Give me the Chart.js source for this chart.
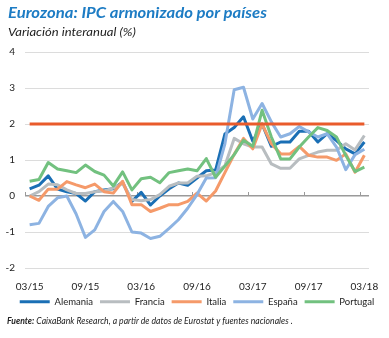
<!DOCTYPE html>
<html><head><meta charset="utf-8">
<script src="https://cdn.jsdelivr.net/npm/chart.js@4/dist/chart.umd.min.js"></script>
<style>
html,body{margin:0;padding:0;background:#fff;}
#wrap{position:relative;width:389px;height:338px;overflow:hidden;}
canvas{position:absolute;left:0;top:0;}
.t{position:absolute;white-space:nowrap;transform-origin:0 0;}
#title{left:8px;top:3px;font:bold italic 15px Lato,'Open Sans',sans-serif;color:#1d7cc4;}
#sub{left:8px;top:25px;font:italic 11.5px Lato,'Open Sans',sans-serif;color:#222;}
#src{left:7px;top:315px;font:italic 9px Lato,'Open Sans',sans-serif;color:#222;}
</style></head><body>
<div id="wrap">
<canvas id="c" width="389" height="338"></canvas>
<div class="t" id="title">Eurozona: IPC armonizado por países</div>
<div class="t" id="sub">Variación interanual (%)</div>
<div class="t" id="src"><b>Fuente:</b> CaixaBank Research, a partir de datos de Eurostat y fuentes nacionales .</div>
</div>
<script>
const categories = ['03/15','04/15','05/15','06/15','07/15','08/15','09/15','10/15','11/15','12/15',
 '01/16','02/16','03/16','04/16','05/16','06/16','07/16','08/16','09/16','10/16','11/16','12/16',
 '01/17','02/17','03/17','04/17','05/17','06/17','07/17','08/17','09/17','10/17','11/17','12/17',
 '01/18','02/18','03/18'];
const tickLabels = ['03/15','09/15','03/16','09/16','03/17','09/17','03/18'];
const alemania = [0.2,0.3,0.56,0.19,0.12,0.07,-0.14,0.12,0.17,0.2,0.38,-0.15,0.1,-0.25,0.0,0.2,0.36,0.3,0.5,0.7,0.72,1.72,1.9,2.2,1.52,2.0,1.38,1.5,1.5,1.8,1.8,1.5,1.73,1.54,1.31,1.17,1.5];
const francia = [0.0,0.12,0.33,0.31,0.17,0.07,0.07,0.12,0.14,0.22,0.35,-0.1,-0.13,-0.1,0.04,0.27,0.36,0.36,0.55,0.56,0.65,0.84,1.6,1.45,1.36,1.36,0.89,0.77,0.77,1.03,1.13,1.22,1.27,1.27,1.45,1.28,1.68];
const italia = [0.0,-0.12,0.19,0.19,0.4,0.31,0.23,0.33,0.12,0.08,0.41,-0.24,-0.24,-0.43,-0.34,-0.24,-0.24,-0.15,0.08,-0.14,0.14,0.65,1.16,1.6,1.31,2.0,1.45,1.17,1.17,1.38,1.13,1.08,1.08,0.99,1.17,0.66,1.13];
const espana = [-0.8,-0.76,-0.29,-0.05,0.0,-0.5,-1.15,-0.94,-0.43,-0.15,-0.43,-1.0,-1.03,-1.18,-1.12,-0.9,-0.66,-0.34,0.04,0.5,0.51,1.45,2.95,3.02,2.14,2.57,2.06,1.64,1.73,1.93,1.78,1.64,1.73,1.36,0.73,1.15,1.3];
const portugal = [0.41,0.46,0.93,0.75,0.7,0.65,0.86,0.68,0.58,0.28,0.67,0.17,0.48,0.52,0.37,0.65,0.7,0.75,0.7,1.04,0.52,0.83,1.15,1.55,1.38,2.38,1.64,1.03,1.03,1.36,1.64,1.9,1.82,1.64,1.13,0.68,0.8];
const objetivo = categories.map(() => 2);

function fit(id, w){ const el=document.getElementById(id); const s=w/el.scrollWidth; el.style.transform='scaleX('+s+')'; }
fit('title',259); fit('sub',128); fit('src',286);

const FONT = 'Lato, "Open Sans", sans-serif';
const zeroTicks = {
  id:'zeroTicks',
  beforeDatasetsDraw(chart){
    const x=chart.scales.x, y=chart.scales.y, ctx=chart.ctx;
    const y0=y.getPixelForValue(0);
    ctx.save(); ctx.strokeStyle='#9a9a9a'; ctx.lineWidth=1; ctx.beginPath();
    for(let i=0;i<categories.length;i+=6){
      const px = i===0 ? x.left : (x.getPixelForValue(i)+x.getPixelForValue(i-1))/2;
      ctx.moveTo(Math.round(px)+0.5,y0); ctx.lineTo(Math.round(px)+0.5,y0-4);
    }
    ctx.stroke(); ctx.restore();
  }
};
// centre the legend under the whole figure rather than the padded box
const legendShift = {
  id:'legendShift',
  afterLayout(chart){ const lg=chart.legend; if(lg){ lg.left+=12.5; lg.right+=12.5; } }
};
function ds(label,data,color,order){
  return {label,data,borderColor:color,backgroundColor:color,borderWidth:3,pointRadius:0,
    tension:0,fill:false,order,borderJoinStyle:'round',borderCapStyle:'butt'};
}
new Chart(document.getElementById('c'),{
  type:'line',
  data:{labels:categories,datasets:[
    ds('Alemania',alemania,'#1a6fb5',5),
    ds('Francia',francia,'#b8bdc0',4),
    ds('Italia',italia,'#f59a6a',3),
    ds('España',espana,'#8db3e2',2),
    ds('Portugal',portugal,'#72c17f',1),
    ds('Objetivo',objetivo,'#e95b2b',0)
  ]},
  plugins:[zeroTicks,legendShift],
  options:{
    responsive:false,animation:false,
    layout:{padding:{top:52,left:0,right:20,bottom:21.5}},
    plugins:{
      tooltip:{enabled:false},
      legend:{position:'bottom',
        labels:{boxWidth:30,boxHeight:3,padding:7,color:'#222',font:{family:FONT,size:9.5},
          sort:(a,b)=>a.datasetIndex-b.datasetIndex,
          generateLabels(chart){
            return Chart.defaults.plugins.legend.labels.generateLabels(chart)
              .filter(it=>it.datasetIndex<5)
              .map(it=>Object.assign(it,{lineWidth:0,fillStyle:chart.data.datasets[it.datasetIndex].borderColor}));
          }}}
    },
    scales:{
      x:{type:'category',offset:true,
        grid:{display:false},border:{display:false},
        ticks:{autoSkip:false,maxRotation:0,minRotation:0,padding:5,color:'#222',font:{family:FONT,size:10},
          callback:(v,i)=> (i%6===0 ? tickLabels[i/6] : '')},
        afterFit(s){s.height=22;}
      },
      y:{min:-2,max:4,
        ticks:{stepSize:1,padding:10,color:'#222',font:{family:FONT,size:10}},
        grid:{drawTicks:false,
          color:c=> c.tick && c.tick.value===0 ? '#9a9a9a' : '#dcdcdc',
          lineWidth:c=> c.tick && c.tick.value===0 ? 1.5 : 1},
        border:{display:false},
        afterFit(s){s.width=25;}
      }
    }
  }
});
</script>
</body></html>
